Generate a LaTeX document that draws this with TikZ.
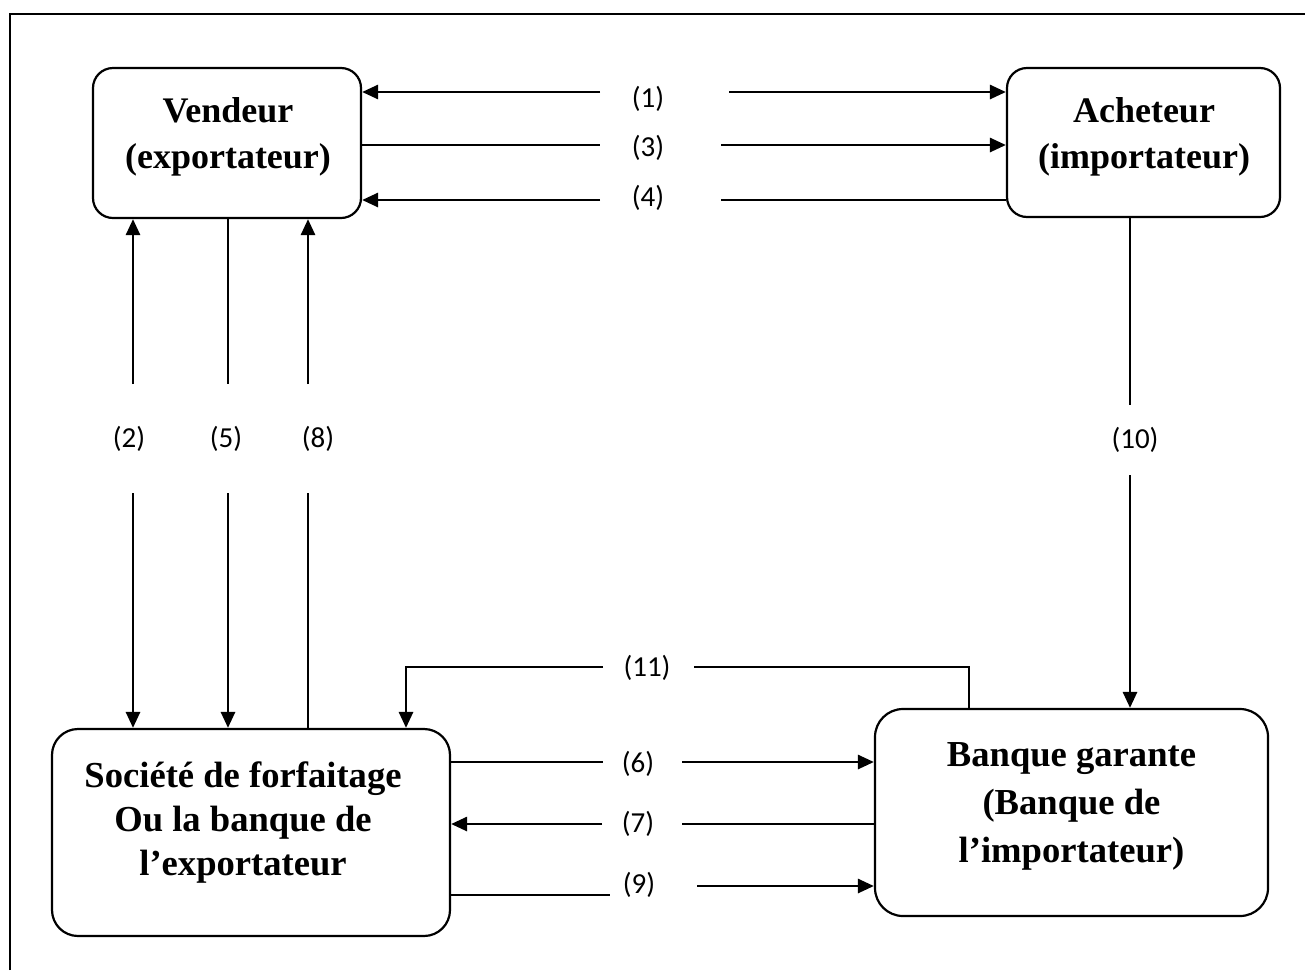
\documentclass[tikz,border=0pt]{standalone}
\usepackage{fontspec}
\setmainfont{Liberation Serif}
\newfontfamily\numfont{Carlito}
\usetikzlibrary{arrows.meta}

\tikzset{
  boite/.style={draw, line width=1.1pt, rounded corners=10pt, inner sep=0pt},
  boitetexte/.style={align=center, inner sep=0pt, font=\bfseries\fontsize{18}{23}\selectfont},
  numero/.style={font=\numfont\fontsize{14.5}{17}\selectfont, inner sep=1pt},
  fleche/.style={-{Triangle[length=8pt,width=7pt]}, line width=1.4pt},
  trait/.style={line width=0.8pt}
}

\begin{document}
\begin{tikzpicture}[x=0.5pt, y=-0.5pt]
\useasboundingbox (0,0) rectangle (1305,970);

% cadre
\draw[line width=1.2pt] (10,970) -- (10,14) -- (1305,14);

% les quatre acteurs
\node[boite, minimum width=134pt, minimum height=75pt] (vend) at (227,143) {};
\node[boite, minimum width=136.5pt, minimum height=74.5pt] (achet) at (1143.5,142.5) {};
\node[boite, rounded corners=13pt, minimum width=199pt, minimum height=103.5pt] (soc) at (251,832.5) {};
\node[boite, rounded corners=14pt, minimum width=196.5pt, minimum height=103.5pt] (banq) at (1071.5,812.5) {};

\node[boitetexte] (vendtxt) at (228,137) {Vendeur\\(exportateur)};
\node[boitetexte] (achettxt) at (1144,137) {Acheteur\\(importateur)};
\node[boitetexte, font=\bfseries\fontsize{18.3}{22}\selectfont] (soctxt) at (243,822) {Société de forfaitage\\Ou la banque de\\l’exportateur};
\node[boitetexte, font=\bfseries\fontsize{18.3}{24}\selectfont] (banqtxt) at (1071.5,806) {Banque garante\\(Banque de\\l’importateur)};

% les numeros
\node[numero] (n1) at (648,99) {(1)};
\node[numero] (n3) at (648,148) {(3)};
\node[numero] (n4) at (648,198) {(4)};
\node[numero] (n2) at (129,439) {(2)};
\node[numero] (n5) at (226,439) {(5)};
\node[numero] (n8) at (318,439) {(8)};
\node[numero] (n10) at (1135,440) {(10)};
\node[numero] (n11) at (647,668) {(11)};
\node[numero] (n6) at (638,764) {(6)};
\node[numero] (n7) at (638,824) {(7)};
\node[numero] (n9) at (639,885) {(9)};

% bouts des traits
\coordinate (a1) at (600,92);  \coordinate (b1) at (729,92);
\coordinate (a3) at (600,145); \coordinate (b3) at (721,145);
\coordinate (a4) at (600,200); \coordinate (b4) at (721,200);
\coordinate (a2) at (133,384); \coordinate (b2) at (133,493);
\coordinate (a5) at (228,384); \coordinate (b5) at (228,493);
\coordinate (a8) at (308,384); \coordinate (b8) at (308,493);
\coordinate (a10) at (1130,405); \coordinate (b10) at (1130,475);
\coordinate (a11) at (603,667); \coordinate (b11) at (694,667);
\coordinate (k11) at (406,667); \coordinate (m11) at (969,667);
\coordinate (a6) at (603,762); \coordinate (b6) at (682,762);
\coordinate (a7) at (602,824); \coordinate (b7) at (682,824);
\coordinate (a9) at (610,895); \coordinate (b9) at (697,886);

% vendeur - acheteur
\draw[fleche] (a1) -- (a1 -| vend.east);
\draw[fleche] (b1) -- (b1 -| achet.west);
\draw[trait] (a3 -| vend.east) -- (a3);
\draw[fleche] (b3) -- (b3 -| achet.west);
\draw[fleche] (a4) -- (a4 -| vend.east);
\draw[trait] (b4) -- (b4 -| achet.west);

% vendeur - societe
\draw[fleche] (a2) -- (a2 |- vend.south);
\draw[fleche] (b2) -- (b2 |- soc.north);
\draw[trait] (a5 |- vend.south) -- (a5);
\draw[fleche] (b5) -- (b5 |- soc.north);
\draw[fleche] (a8) -- (a8 |- vend.south);
\draw[trait] (b8 |- soc.north) -- (b8);

% acheteur - banque
\draw[trait] (a10 |- achet.south) -- (a10);
\draw[fleche] (b10) -- (b10 |- banq.north);

% banque - societe
\draw[fleche] (a11) -- (k11) -- (k11 |- soc.north);
\draw[trait] (b11) -- (m11) -- (m11 |- banq.north);
\draw[trait] (a6 -| soc.east) -- (a6);
\draw[fleche] (b6) -- (b6 -| banq.west);
\draw[fleche] (a7) -- (a7 -| soc.east);
\draw[trait] (b7) -- (b7 -| banq.west);
\draw[trait] (a9 -| soc.east) -- (a9);
\draw[fleche] (b9) -- (b9 -| banq.west);

\end{tikzpicture}
\end{document}
